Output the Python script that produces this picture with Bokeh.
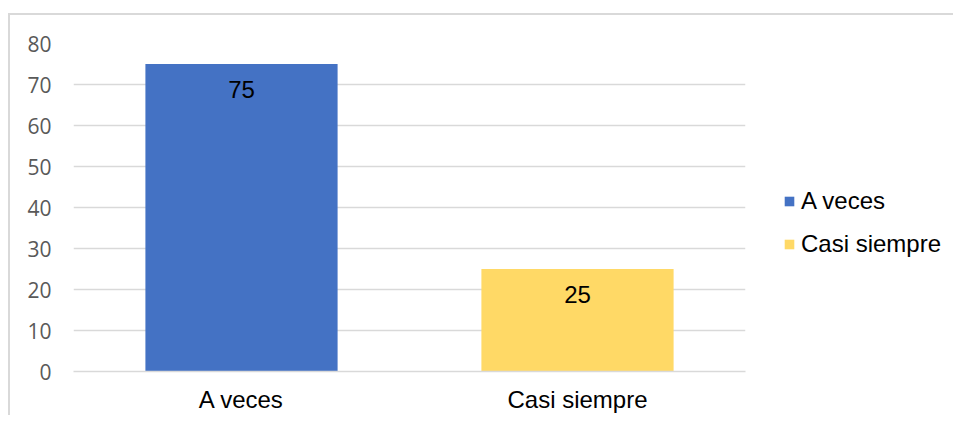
from bokeh.plotting import figure
from bokeh.models import ColumnDataSource, Range1d, FactorRange, Legend, LegendItem, LabelSet, FixedTicker
from bokeh.core.properties import value
from bokeh.embed import file_html
from bokeh.resources import INLINE

categories = ["A veces", "Casi siempre"]
values = [75, 25]
colors = ["#4472C4", "#FFD966"]
labels = ["75", "25"]
y_ticks = [0, 10, 20, 30, 40, 50, 60, 70, 80]

source = ColumnDataSource(dict(cat=categories, val=values, color=colors, lab=labels))

p = figure(x_range=FactorRange(*categories, range_padding=0), y_range=Range1d(0, 80),
           frame_width=672, frame_height=328, output_backend="svg", toolbar_location=None,
           min_border_left=63, min_border_right=200, min_border_top=28, min_border_bottom=43)
p.styles = {"margin-top": "13px", "margin-left": "8px",
            "border-top": "2px solid #d9d9d9", "border-left": "2px solid #d9d9d9"}
p.outline_line_color = None
p.background_fill_color = "white"
p.border_fill_color = "white"

r = p.vbar(x="cat", top="val", width=0.572, color="color", source=source, line_color=None)

p.add_layout(LabelSet(x="cat", y="val", text="lab", source=source, y_offset=-25,
                      text_align="center", text_baseline="middle",
                      text_font=value("Liberation Sans"), text_font_size=value("24px"),
                      text_color="black"))

p.xgrid.grid_line_color = None
p.ygrid.grid_line_color = "#d9d9d9"
p.ygrid.grid_line_width = 1.5
p.yaxis.ticker = FixedTicker(ticks=y_ticks)
p.yaxis.axis_line_color = None
p.yaxis.major_tick_line_color = None
p.yaxis.minor_tick_line_color = None
p.yaxis.major_label_text_font = "Open Sans"
p.yaxis.major_label_text_font_size = "21px"
p.yaxis.major_label_text_color = "#595959"
p.yaxis.major_label_standoff = 16

p.xaxis.axis_line_color = "#d9d9d9"
p.xaxis.axis_line_width = 1.5
p.xaxis.major_tick_line_color = None
p.xaxis.minor_tick_line_color = None
p.xaxis.major_label_text_font = "Liberation Sans"
p.xaxis.major_label_text_font_size = "24px"
p.xaxis.major_label_text_color = "black"
p.xaxis.major_label_standoff = 8

items = [LegendItem(label=categories[i], renderers=[r], index=i) for i in range(len(categories))]
legend = Legend(items=items, location=(38, 113), padding=0, margin=0,
                border_line_color=None, background_fill_alpha=0,
                glyph_width=12, glyph_height=12, label_standoff=6,
                label_text_font="Liberation Sans", label_text_font_size="24px",
                label_text_color="black",
                label_height=27, spacing=15)
p.add_layout(legend, "right")

open("out.html", "w").write(file_html(p, INLINE))
